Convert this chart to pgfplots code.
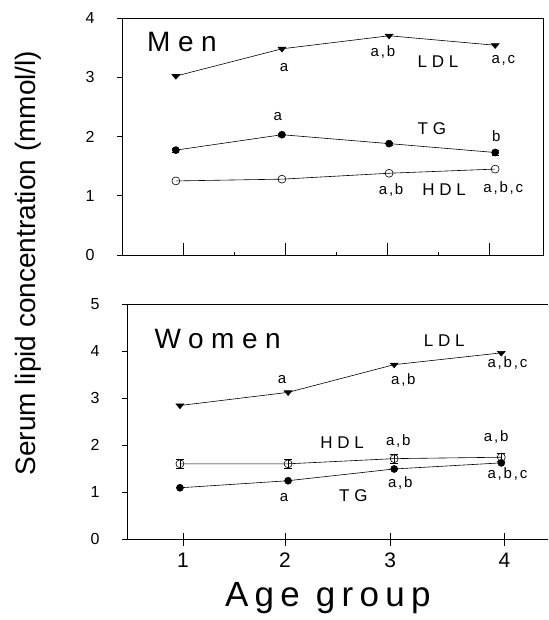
\documentclass[border=0pt]{standalone}
\usepackage{fontspec}
\setmainfont{Liberation Sans}
\newfontfamily\lsbig[LetterSpace=27]{Liberation Sans}
\newfontfamily\lsage[LetterSpace=18]{Liberation Sans}
\newfontfamily\lsmid[LetterSpace=28]{Liberation Sans}
\newfontfamily\lssmall[LetterSpace=12]{Liberation Sans}
\usepackage{pgfplots}
\pgfplotsset{compat=1.18}
\pgfplotsset{
  panel/.style={
    scale only axis,
    width=421pt,
    /pgf/number format/assume math mode=true,
    tick style={black, line width=0.6pt},
    axis line style={black, line width=0.7pt},
    ytick pos=left,
    xtick pos=bottom,
    minor x tick num=1,
    yticklabel style={font=\fontsize{16}{16}\selectfont, xshift=-19pt},
    xticklabel style={font=\fontsize{21}{21}\selectfont, yshift=-8pt},
    clip=false,
  },
  ldl/.style={black, line width=0.6pt, mark=triangle*, mark size=4.5pt, mark options={rotate=180, yscale=0.7, fill=black}},
  tg/.style={black, line width=0.6pt, mark=*, mark size=3.5pt, mark options={fill=black}},
  hdl/.style={black, line width=0.6pt, mark=o, mark size=4pt, mark options={fill=white, line width=0.6pt}},
}
\tikzset{
  ann/.style={font=\lssmall\fontsize{15}{15}\selectfont, inner sep=0pt},
  lab/.style={font=\lsmid\fontsize{17}{17}\selectfont, inner sep=0pt},
  ttl/.style={font=\lsbig\fontsize{28}{28}\selectfont, inner sep=0pt},
}
\begin{document}
\begin{tikzpicture}[x=1pt,y=1pt]
\path[use as bounding box] (0,0) rectangle (548,-620);
% ---------------- Men ----------------
\begin{axis}[panel,
  at={(122pt,-255pt)}, anchor=south west,
  height=237pt,
  xmin=0.402, xmax=4.529, ymin=0, ymax=4,
  ytick={0,1,2,3,4},
  xtick={1,2,3,4}, xticklabels={},
  xtick align=inside, ytick align=outside,
  major tick length=5pt, minor tick length=3pt,
  xtick style={/pgfplots/major tick length=12pt},
]
\addplot[ldl] coordinates {(0.93,3.02) (1.97,3.48) (3.02,3.70) (4.06,3.54)};
\addplot[tg, error bars/.cd, y dir=both, y explicit, error mark options={rotate=90, mark size=3.5pt, black}]
  coordinates {(0.93,1.77) +- (0,0.03) (1.97,2.03) +- (0,0.03) (3.02,1.88) +- (0,0.03) (4.06,1.73) +- (0,0.04)};
\addplot[hdl] coordinates {(0.93,1.25) (1.97,1.28) (3.02,1.38) (4.06,1.45)};
\node[ttl] at (axis cs:0.99,3.60) {Men};
\node[ann] at (axis cs:1.99,3.16) {a};
\node[ann] at (axis cs:2.96,3.43) {a,b};
\node[lab] at (axis cs:3.50,3.26) {LDL};
\node[ann] at (axis cs:4.14,3.29) {a,c};
\node[ann] at (axis cs:1.93,2.33) {a};
\node[lab] at (axis cs:3.44,2.14) {TG};
\node[ann] at (axis cs:4.07,2.00) {b};
\node[ann] at (axis cs:3.04,1.10) {a,b};
\node[lab] at (axis cs:3.56,1.10) {HDL};
\node[ann] at (axis cs:4.14,1.13) {a,b,c};
\end{axis}
% ---------------- Women ----------------
\begin{axis}[panel,
  at={(127pt,-539pt)}, anchor=south west,
  height=235pt,
  axis x line=box, axis y line=left, axis line style={-},
  xmin=0.451, xmax=4.578, ymin=0, ymax=5,
  ytick={0,1,2,3,4,5},
  xtick={1,2,3.03,4.15}, xticklabels={1,2,3,4},
  xtick align=center, ytick align=outside,
  major tick length=5pt, minor tick length=4pt,
  xtick style={/pgfplots/major tick length=13pt},
  xlabel={Age group},
  xlabel style={font=\lsage\fontsize{35}{35}\selectfont, at={(axis description cs:0.477,0)}, anchor=center, yshift=-59pt},
  ylabel={Serum lipid concentration (mmol/l)},
  ylabel style={font=\fontsize{28}{28}\selectfont, at={(axis description cs:-0.235,1.174)}, anchor=center},
]
\addplot[ldl] coordinates {(0.97,2.84) (2.03,3.12) (3.07,3.71) (4.12,3.96)};
\addplot[hdl, error bars/.cd, y dir=both, y explicit, error mark options={rotate=90, mark size=4pt, black}]
  coordinates {(0.97,1.60) +- (0,0.10) (2.03,1.60) +- (0,0.10) (3.07,1.71) +- (0,0.10) (4.12,1.74) +- (0,0.09)};
\addplot[tg] coordinates {(0.97,1.09) (2.03,1.24) (3.07,1.49) (4.12,1.62)};
\node[ttl] at (axis cs:1.34,4.26) {Women};
\node[lab] at (axis cs:3.56,4.23) {LDL};
\node[ann] at (axis cs:1.97,3.39) {a};
\node[ann] at (axis cs:3.16,3.39) {a,b};
\node[ann] at (axis cs:4.18,3.75) {a,b,c};
\node[lab] at (axis cs:2.56,2.05) {HDL};
\node[ann] at (axis cs:3.11,2.08) {a,b};
\node[ann] at (axis cs:4.07,2.16) {a,b};
\node[ann] at (axis cs:4.18,1.38) {a,b,c};
\node[ann] at (axis cs:3.13,1.20) {a,b};
\node[ann] at (axis cs:1.99,0.89) {a};
\node[lab] at (axis cs:2.67,0.93) {TG};
\end{axis}
\end{tikzpicture}
\end{document}
